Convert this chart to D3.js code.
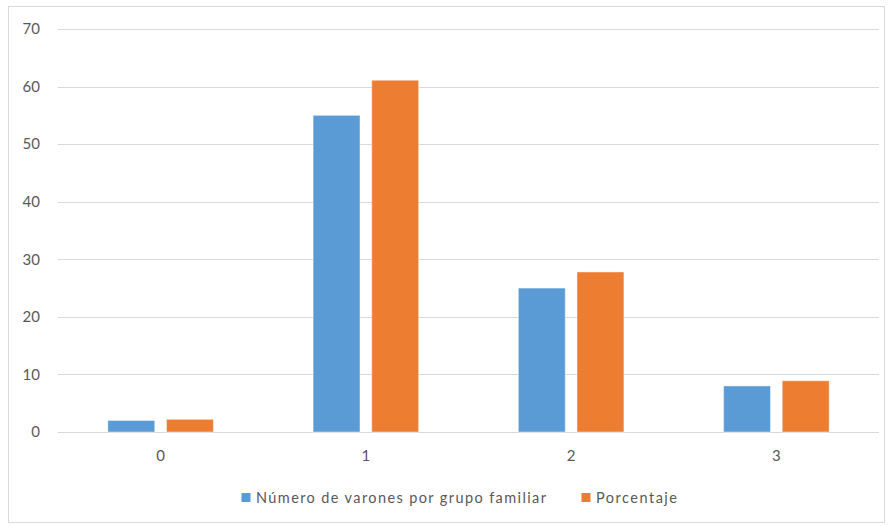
<!DOCTYPE html>
<html><head><meta charset="utf-8">
<script src="https://cdn.jsdelivr.net/npm/d3@7"></script>
<style>body{margin:0;background:#fff;} text{font-family:Lato,"Open Sans",sans-serif;fill:#595959;}</style>
</head><body>
<svg id="chart" width="892" height="526"></svg>
<script>
const categories = ["0", "1", "2", "3"];
const seriesNames = ["Número de varones por grupo familiar", "Porcentaje"];
const varones = [2, 55, 25, 8];
const porcentaje = [2.2, 61.1, 27.8, 8.9];
const yTicks = [0, 10, 20, 30, 40, 50, 60, 70];
const colors = ["#5B9BD5", "#ED7D31"];

(function () {
const svg = d3.select("#chart");
svg.append("rect").attr("x", 8.5).attr("y", 6.5).attr("width", 876).attr("height", 516)
  .attr("fill", "#fff").attr("stroke", "#d9d9d9");

const mLeft = 58, mRight = 879, mTop = 29, mBottom = 432;
const x = d3.scaleBand().domain(categories).range([mLeft, mRight]);
const y = d3.scaleLinear().domain([0, 70]).range([mBottom, mTop]);

// gridlines
svg.append("g").selectAll("line").data(yTicks).join("line")
  .attr("x1", mLeft).attr("x2", mRight)
  .attr("y1", d => Math.round(y(d)) + 0.5).attr("y2", d => Math.round(y(d)) + 0.5)
  .attr("stroke", "#d9d9d9").attr("stroke-width", 1);

// y axis labels
const yAxis = d3.axisLeft(y).tickValues(yTicks).tickSize(0).tickPadding(0);
const gy = svg.append("g").attr("transform", `translate(40,0)`).call(yAxis);
gy.select(".domain").remove();
gy.selectAll("text").attr("font-size", 15).style("fill", "#595959").attr("font-family", "Lato, 'Open Sans', sans-serif");

// x axis labels
const xAxis = d3.axisBottom(x).tickSize(0).tickPadding(0);
const gx = svg.append("g").attr("transform", `translate(0,${mBottom + 18})`).call(xAxis);
gx.select(".domain").remove();
gx.selectAll("text").attr("font-size", 15).style("fill", "#595959").attr("font-family", "Lato, 'Open Sans', sans-serif");

// bars
const inner = d3.scaleBand().domain([0, 1]).range([0, x.bandwidth()]).paddingInner(0.2).paddingOuter(0.85);
const data = [varones, porcentaje];
data.forEach((vals, si) => {
  svg.append("g").selectAll("rect").data(categories).join("rect")
    .attr("x", (c) => x(c) + inner(si))
    .attr("width", inner.bandwidth())
    .attr("y", (c, i) => y(vals[i]))
    .attr("height", (c, i) => y(0) - y(vals[i]))
    .attr("fill", colors[si])
    .attr("stroke", "rgba(255,255,255,0.45)").attr("stroke-width", 1);
});

// legend
const legendItems = [{x: 241.5, name: seriesNames[0], c: colors[0], w: 290}, {x: 581.5, name: seriesNames[1], c: colors[1], w: 81}];
const lg = svg.append("g");
legendItems.forEach(it => {
  lg.append("rect").attr("x", it.x).attr("y", 493).attr("width", 9).attr("height", 9).attr("fill", it.c);
  lg.append("text").attr("x", it.x + 14.5).attr("y", 503).attr("font-size", 14.5)
    .attr("textLength", it.w).attr("lengthAdjust", "spacing").text(it.name);
});
})();
</script>
</body></html>
